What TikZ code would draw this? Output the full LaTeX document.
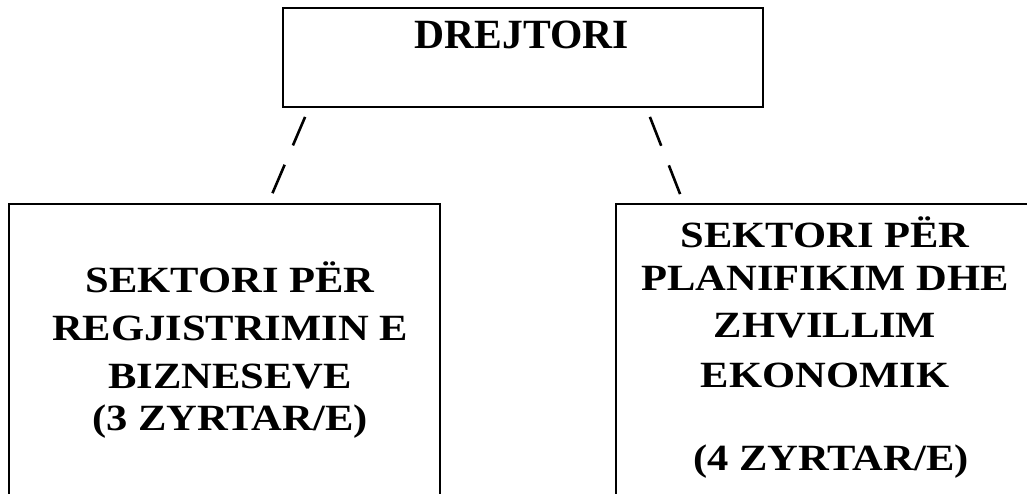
\documentclass[tikz,border=0pt]{standalone}
\usepackage{fontspec}
\setmainfont{Liberation Serif}
\newfontfamily\widefont[FakeStretch=1.15]{Liberation Serif}
\tikzset{
  box/.style={draw=black, line width=0.9pt, inner sep=0pt},
  link/.style={draw=black, line width=1.3pt, dash pattern=on 15.5pt off 10.5pt},
  head/.style={anchor=base, inner sep=0pt, font=\fontsize{20.8}{25}\selectfont\bfseries},
  sector/.style={anchor=base, inner sep=0pt, font=\widefont\fontsize{18.5}{22}\selectfont\bfseries}
}
\begin{document}
\begin{tikzpicture}[x=0.5pt,y=-0.5pt]
\useasboundingbox (0,0) rectangle (1027,493);
\clip (0,0) rectangle (1027,493);
% boxes
\node [box, minimum width=240pt, minimum height=49.5pt] (drejtori) at (523,57.5) {};
\node [box, minimum width=215.5pt, minimum height=158pt] (regjistrimi) at (224.5,362) {};
\node [box, minimum width=212pt, minimum height=158pt] (planifikimi) at (828,362) {};
% texts
\node [head] (titull) at (522,48) {DREJTORI};
\node [sector] (reg1) at (230,292) {SEKTORI PËR};
\node [sector] (reg2) at (230,340) {REGJISTRIMIN E};
\node [sector] (reg3) at (230,388) {BIZNESEVE};
\node [sector] (reg4) at (230,430) {(3 ZYRTAR/E)};
\node [sector] (plan1) at (825,247) {SEKTORI PËR};
\node [sector] (plan2) at (825,290) {PLANIFIKIM DHE};
\node [sector] (plan3) at (825,337) {ZHVILLIM};
\node [sector] (plan4) at (825,387) {EKONOMIK};
\node [sector] (plan5) at (831,470) {(4 ZYRTAR/E)};
% dashed links
\draw [link] ([xshift=11.5pt,yshift=-4.5pt]drejtori.south west) -- ([xshift=132pt,yshift=4.5pt]regjistrimi.north west);
\draw [link] ([xshift=-57pt,yshift=-4.5pt]drejtori.south east) -- ([xshift=32.5pt,yshift=4.5pt]planifikimi.north west);
\end{tikzpicture}
\end{document}
